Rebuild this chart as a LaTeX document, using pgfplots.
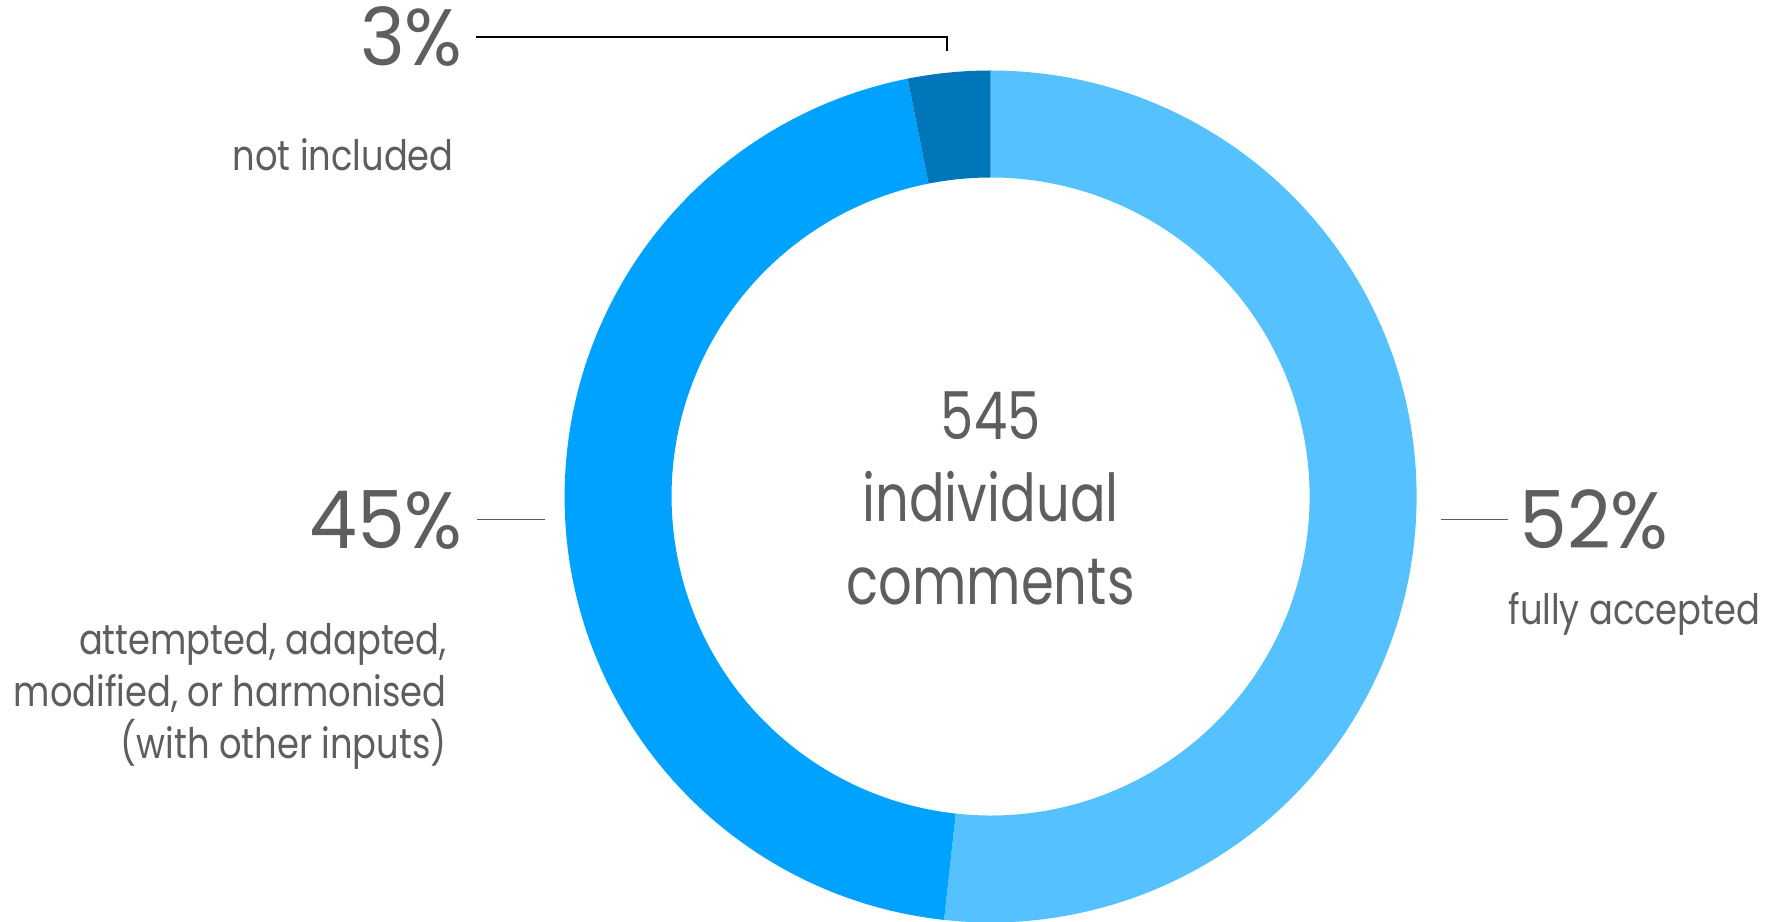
\documentclass[border=0pt]{standalone}
\usepackage{pgfplots}
\pgfplotsset{compat=1.18}
\usepackage{pgfplotstable}
\usepackage{fontspec}
\setmainfont[FakeStretch=0.8]{Poppins}
\newfontfamily\pctfont[FakeStretch=0.95]{Poppins}
\newfontfamily\labfont[FakeStretch=0.84]{Poppins}

\definecolor{cFull}{HTML}{56C1FF}
\definecolor{cAdapt}{HTML}{00A2FF}
\definecolor{cNot}{HTML}{0076BA}
\definecolor{txt}{HTML}{5E5E5E}

% comments per outcome (of 545)
\pgfplotstableread{
outcome count
full    282
adapted 246
notincl 17
}\slices
\pgfplotstablegetelem{0}{count}\of\slices\edef\nA{\pgfplotsretval}
\pgfplotstablegetelem{1}{count}\of\slices\edef\nB{\pgfplotsretval}
\pgfplotstablegetelem{2}{count}\of\slices\edef\nC{\pgfplotsretval}
\pgfmathsetmacro\tot{\nA+\nB+\nC}
\pgfmathsetmacro\aA{90-\nA/\tot*360}
\pgfmathsetmacro\aB{\aA-\nB/\tot*360}
\pgfmathsetmacro\aC{\aB-\nC/\tot*360}

\newcommand{\ring}[3]{% start angle, end angle, colour
  \fill[#3] (canvas polar cs:angle=#1,radius=213pt)
    arc[start angle=#1,end angle=#2,radius=213pt]
    -- (canvas polar cs:angle=#2,radius=159.5pt)
    arc[start angle=#2,end angle=#1,radius=159.5pt] -- cycle;}

\begin{document}
\begin{tikzpicture}
\begin{axis}[
  scale only axis,
  width=883.5pt, height=460.5pt,
  xmin=0, xmax=1767, ymin=0, ymax=921,
  hide axis, clip=false
]
\begin{scope}[shift={(axis cs:990.6,424.5)}]
  \ring{90}{\aA}{cFull}
  \ring{\aA}{\aB}{cAdapt}
  \ring{\aB}{\aC}{cNot}
\end{scope}

% leader lines
\draw[black, line width=0.8pt] (axis cs:475.6,883.8) -- (axis cs:946.7,883.8) -- (axis cs:946.7,870.3);
\draw[txt, line width=0.8pt] (axis cs:477,401.4) -- (axis cs:545,401.4);
\draw[txt, line width=0.8pt] (axis cs:1441,401.4) -- (axis cs:1508,401.4);

% percentages
\begin{scope}[every node/.style={text=txt, inner sep=0pt, font=\pctfont\fontsize{40}{48}\selectfont}]
  \node[anchor=base east] at (axis cs:463,855.6) {3\%};
  \node[anchor=base east] at (axis cs:463,372) {45\%};
  \node[anchor=base west] at (axis cs:1519,372) {52\%};
\end{scope}

% category labels
\begin{scope}[every node/.style={text=txt, inner sep=0pt, font=\labfont\fontsize{21}{25}\selectfont}]
  \node[anchor=base east] at (axis cs:454,750) {not included};
  \node[anchor=base east] at (axis cs:447,266) {attempted, adapted,};
  \node[anchor=base east] at (axis cs:447,214) {modified, or harmonised};
  \node[anchor=base east] at (axis cs:447,162) {(with other inputs)};
  \node[anchor=base west] at (axis cs:1508,296) {fully accepted};
\end{scope}

% centre text
\begin{scope}[every node/.style={text=txt, inner sep=0pt, anchor=base, font=\fontsize{33}{40}\selectfont}]
  \node at (axis cs:990.6,481.5) {545};
  \node at (axis cs:990.6,399) {individual};
  \node at (axis cs:990.6,316) {comments};
\end{scope}
\end{axis}
\pgfresetboundingbox
\path[use as bounding box] (current axis.south west) rectangle (current axis.north east);
\end{tikzpicture}
\end{document}
